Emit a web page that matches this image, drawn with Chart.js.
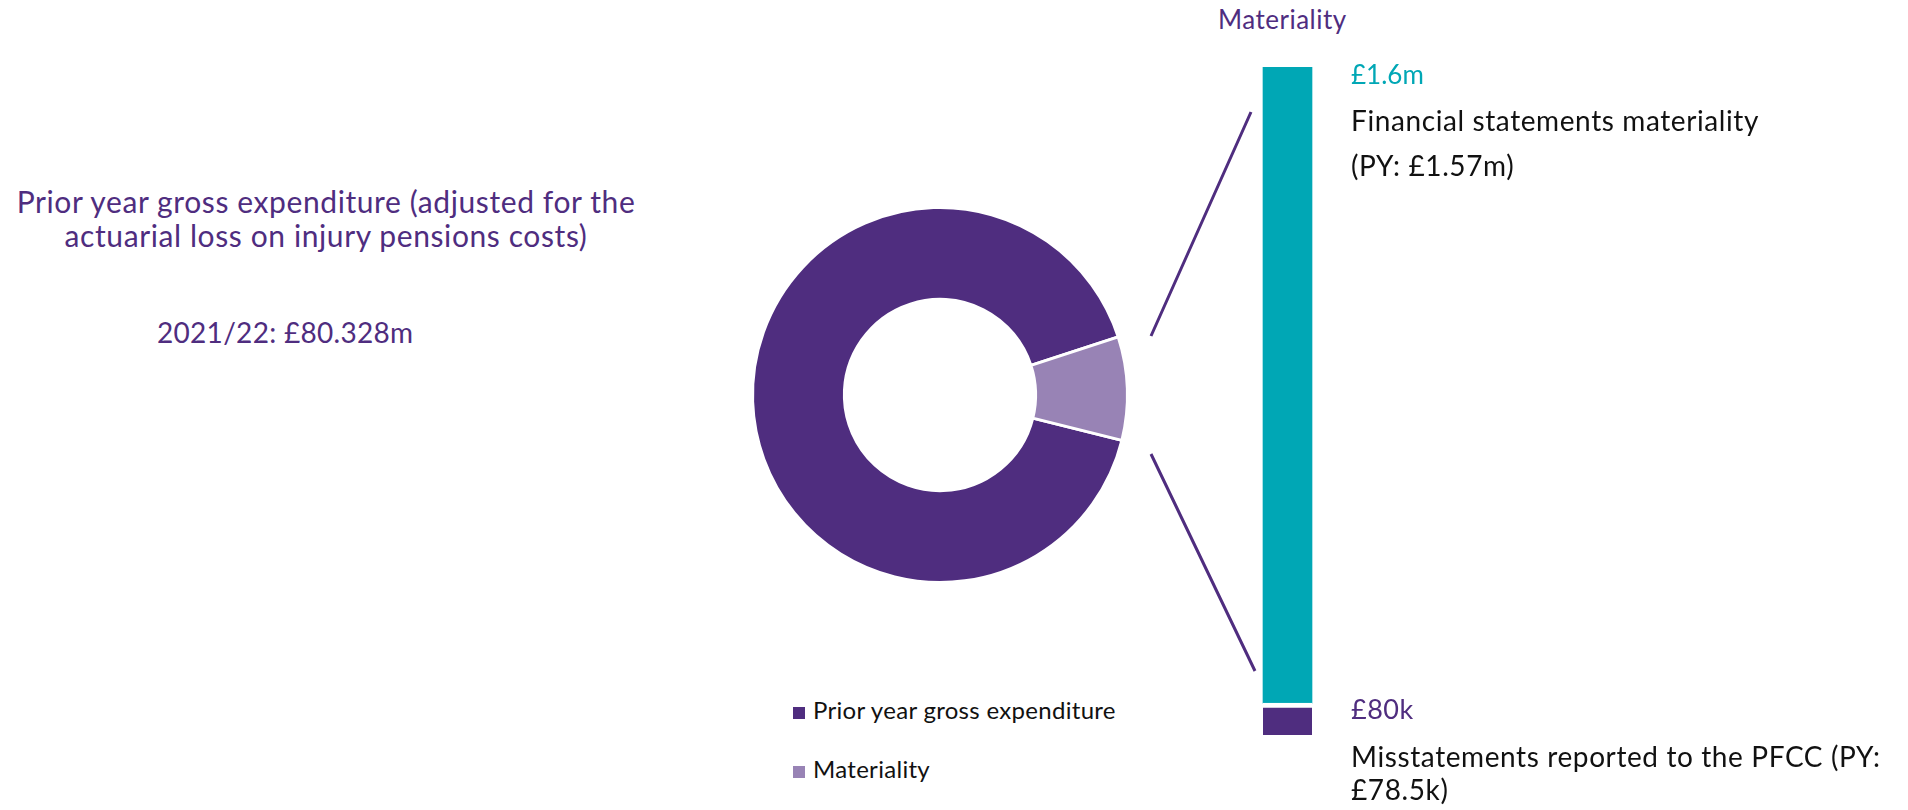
<!DOCTYPE html>
<html>
<head>
<meta charset="utf-8">
<script src="https://cdn.jsdelivr.net/npm/chart.js@4/dist/chart.umd.min.js"></script>
<style>
	body { margin: 0; background: #fff; font-family: Lato, "Noto Sans", sans-serif; }
	#page { position: relative; width: 1908px; height: 810px; overflow: hidden; }
	.txt { position: absolute; white-space: nowrap; line-height: 1.2; }
	.box { position: absolute; }
	.key { position: absolute; width: 12px; height: 12px; }
</style>
</head>
<body>
<div id="page">
	<div class="txt" id="leftTitle" style="left:0; width:652px; top:184px; font-size:30px; line-height:34px; letter-spacing:0.6px; text-align:center; color:#4f2d7f;"></div>
	<div class="txt" id="leftValue" style="left:157px; top:315px; font-size:28px; line-height:34px; letter-spacing:0.3px; color:#4f2d7f;"></div>

	<div class="box" style="left:740px; top:195px; width:400px; height:400px;"><canvas id="donut"></canvas></div>
	<div id="legend"></div>

	<div class="txt" id="barTitle" style="left:1218px; top:4px; font-size:26px; letter-spacing:0.5px; color:#4f2d7f;"></div>
	<div class="box" style="left:1140px; top:60px; width:300px; height:690px;"><canvas id="bar"></canvas></div>

	<div class="txt" id="topValue" style="left:1351px; top:59px; font-size:26px; color:#00a7b5;"></div>
	<div class="txt" id="topText" style="left:1351px; top:98px; font-size:28px; line-height:45px; letter-spacing:0.6px; color:#111;"></div>
	<div class="txt" id="bottomValue" style="left:1351px; top:693px; font-size:27px; letter-spacing:0.5px; color:#4f2d7f;"></div>
	<div class="txt" id="bottomText" style="left:1351px; top:740px; font-size:28px; line-height:33px; letter-spacing:0.6px; color:#111;"></div>
</div>
<script>
// doughnut: share of each slice as drawn (materiality slice is enlarged in the picture)
const donutLabels = ["Prior year gross expenditure", "Materiality"];
const donutValues = [91.1, 8.9];
const donutColors = ["#4f2d7f", "#9883b5"];

// materiality bar (in £k), stacked bottom to top
const barLabels = ["Misstatements reported to the PFCC", "Financial statements materiality"];
const barValues = [80, 1600];
const barColors = ["#4f2d7f", "#00a7b5"];

const leftTitleLines = ["Prior year gross expenditure (adjusted for the", "actuarial loss on injury pensions costs)"];
const leftValueText = "2021/22: £80.328m";
const barTitleText = "Materiality";
const topValueText = "£1.6m";
const topTextLines = ["Financial statements materiality", "(PY: £1.57m)"];
const bottomValueText = "£80k";
const bottomTextLines = ["Misstatements reported to the PFCC (PY:", "£78.5k)"];

document.getElementById("leftTitle").innerHTML = leftTitleLines.join("<br>");
document.getElementById("leftValue").textContent = leftValueText;
document.getElementById("barTitle").textContent = barTitleText;
document.getElementById("topValue").textContent = topValueText;
document.getElementById("topText").innerHTML = topTextLines.join("<br>");
document.getElementById("bottomValue").textContent = bottomValueText;
document.getElementById("bottomText").innerHTML = bottomTextLines.join("<br>");

// legend for the doughnut
const legend = document.getElementById("legend");
donutLabels.forEach((label, i) => {
	const top = 696 + i * 59;
	const key = document.createElement("div");
	key.className = "key";
	key.style.left = "793px";
	key.style.top = (top + 11) + "px";
	key.style.background = donutColors[i];
	legend.appendChild(key);
	const txt = document.createElement("div");
	txt.className = "txt";
	txt.style.left = "813px";
	txt.style.top = top + "px";
	txt.style.fontSize = "24px";
	txt.style.letterSpacing = "0.3px";
	txt.style.color = "#111";
	txt.textContent = label;
	legend.appendChild(txt);
});

new Chart(document.getElementById("donut"), {
	type: "doughnut",
	data: {
		labels: donutLabels,
		datasets: [
			{
				data: donutValues,
				backgroundColor: donutColors,
				borderColor: "#ffffff",
				borderWidth: 3,
			},
		],
	},
	options: {
		responsive: true,
		maintainAspectRatio: false,
		animation: false,
		rotation: 104,
		cutout: "51%",
		layout: { padding: 11 },
		plugins: { legend: { display: false }, tooltip: { enabled: false } },
	},
});

// connector lines between the doughnut and the bar
const connectors = {
	id: "connectors",
	afterDraw(chart) {
		const ctx = chart.ctx;
		const bottomBar = chart.getDatasetMeta(0).data[0];
		const topBar = chart.getDatasetMeta(1).data[0];
		const x0 = topBar.x - topBar.width / 2;
		const top = topBar.y;
		const bottom = bottomBar.base;
		ctx.save();
		ctx.strokeStyle = "#4f2d7f";
		ctx.lineWidth = 3;
		ctx.beginPath();
		ctx.moveTo(x0 - 12, top + 45);
		ctx.lineTo(x0 - 112, top + 269);
		ctx.moveTo(x0 - 112, bottom - 281);
		ctx.lineTo(x0 - 8, bottom - 64);
		ctx.stroke();
		ctx.restore();
	},
};

new Chart(document.getElementById("bar"), {
	type: "bar",
	data: {
		labels: [""],
		datasets: [
			{
				label: barLabels[0],
				data: [barValues[0]],
				backgroundColor: barColors[0],
				borderColor: "#ffffff",
				borderWidth: { top: 5, bottom: 0, left: 0, right: 0 },
				barThickness: 49,
			},
			{
				label: barLabels[1],
				data: [barValues[1]],
				backgroundColor: barColors[1],
				borderWidth: 0,
				barThickness: 49,
			},
		],
	},
	options: {
		responsive: true,
		maintainAspectRatio: false,
		animation: false,
		layout: { padding: { top: 7, bottom: 15, left: 0, right: 5 } },
		scales: {
			x: { stacked: true, display: false },
			y: { stacked: true, display: false, min: 0, max: barValues[0] + barValues[1] },
		},
		plugins: { legend: { display: false }, tooltip: { enabled: false } },
	},
	plugins: [connectors],
});
</script>
</body>
</html>
